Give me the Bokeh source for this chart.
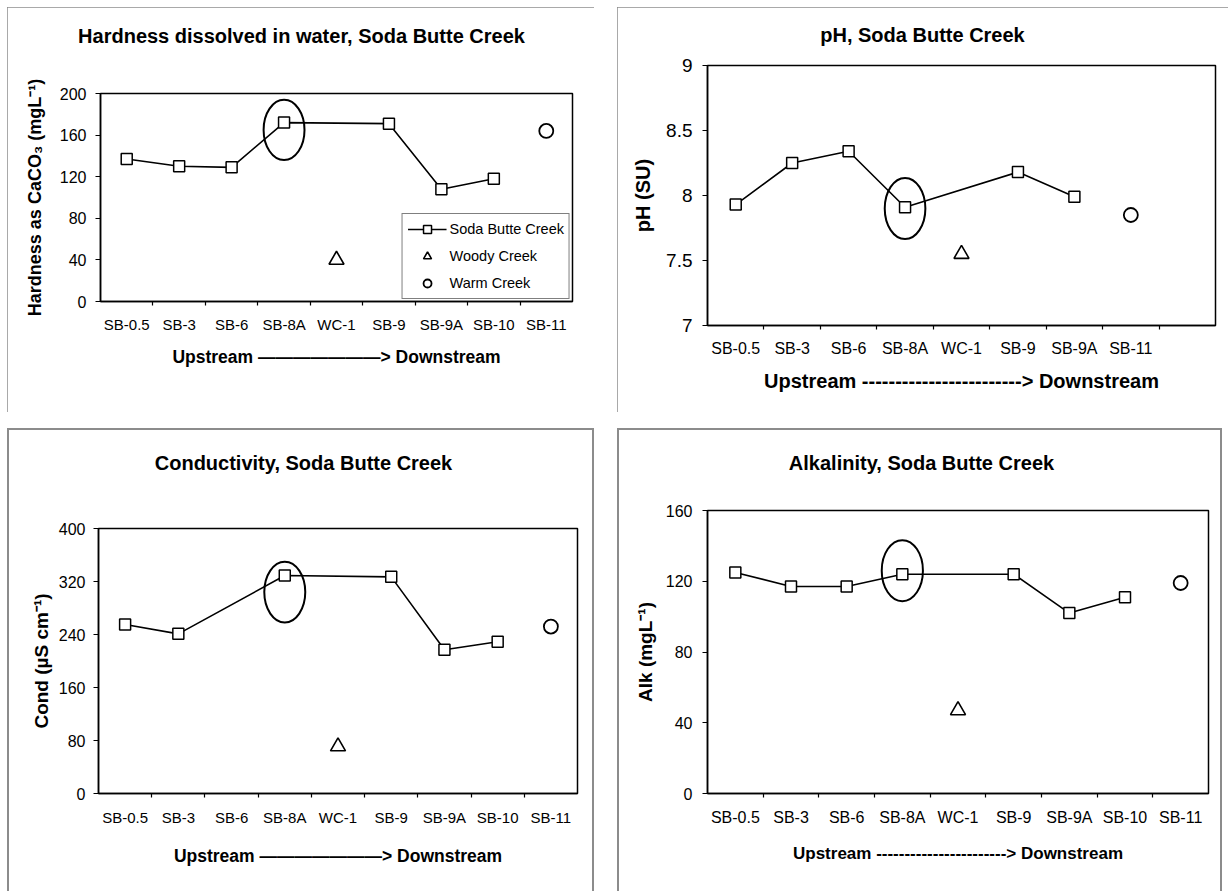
from bokeh.plotting import figure
from bokeh.models import (FactorRange, Range1d, FixedTicker, LinearAxis,
                          Label, Legend, LegendItem, NumeralTickFormatter)
from bokeh.embed import file_html
from bokeh.resources import INLINE

FONT = "Liberation Sans"

# ---------------- data ----------------
sites_main = ["SB-0.5", "SB-3", "SB-6", "SB-8A", "WC-1", "SB-9", "SB-9A", "SB-10", "SB-11"]
sites_ph = ["SB-0.5", "SB-3", "SB-6", "SB-8A", "WC-1", "SB-9", "SB-9A", "SB-11", " "]

woody_site = ["WC-1"]
warm_site = ["SB-11"]
highlight_site = ["SB-8A"]

# Hardness (mg/L as CaCO3)
hard_sb_sites = ["SB-0.5", "SB-3", "SB-6", "SB-8A", "SB-9", "SB-9A", "SB-10"]
hard_sb = [137, 130, 129, 172, 171, 108, 118]
hard_woody = [40]
hard_warm = [164]

# pH (SU)
ph_sb_sites = ["SB-0.5", "SB-3", "SB-6", "SB-8A", "SB-9", "SB-9A"]
ph_sb = [7.93, 8.25, 8.34, 7.91, 8.18, 7.99]
ph_woody = [7.55]
ph_warm = [7.85]

# Conductivity (uS/cm)
cond_sb_sites = ["SB-0.5", "SB-3", "SB-8A", "SB-9", "SB-9A", "SB-10"]
cond_sb = [255, 241, 329, 327, 217, 229]
cond_woody = [71]
cond_warm = [252]

# Alkalinity (mg/L)
alk_sb_sites = ["SB-0.5", "SB-3", "SB-6", "SB-8A", "SB-9", "SB-9A", "SB-10"]
alk_sb = [125, 117, 117, 124, 124, 102, 111]
alk_woody = [47]
alk_warm = [119]

hard_ticks = [0, 40, 80, 120, 160, 200]
ph_ticks = [7, 7.5, 8, 8.5, 9]
cond_ticks = [0, 80, 160, 240, 320, 400]
alk_ticks = [0, 40, 80, 120, 160]

SOLID_ARROW = "Upstream \u2014\u2014\u2014\u2014\u2014\u2014\u2014> Downstream"


def make_panel(cfg):
    cats = cfg["cats"]
    p = figure(x_range=FactorRange(factors=cats, range_padding=0),
               y_range=Range1d(cfg["yr"][0], cfg["yr"][1]),
               width=cfg["W"], height=cfg["H"],
               x_axis_location=None, y_axis_location=None,
               toolbar_location=None, output_backend="svg",
               min_border_left=cfg["mb"][0], min_border_right=cfg["mb"][1],
               min_border_top=cfg["mb"][2], min_border_bottom=cfg["mb"][3],
               background_fill_color="white",
               border_fill_color=cfg.get("bfill", "white"),
               outline_line_color="black", outline_line_width=1.5)
    p.xgrid.visible = False
    p.ygrid.visible = False
    st = {"position": "absolute", "left": "%dpx" % cfg["pos"][0], "top": "%dpx" % cfg["pos"][1]}
    st.update(cfg["frame_css"])
    p.styles = st

    # y axis
    yax = LinearAxis(ticker=FixedTicker(ticks=cfg["yticks"]),
                     formatter=NumeralTickFormatter(format="0.[0]"),
                     axis_line_color="black", axis_line_width=1.5,
                     major_tick_line_color="black", major_tick_line_width=1.2,
                     major_tick_in=0, major_tick_out=5,
                     minor_tick_line_color=None,
                     major_label_standoff=cfg["ylab_std"],
                     major_label_text_font=FONT,
                     major_label_text_font_size=cfg["ytick_fs"],
                     major_label_text_color="black",
                     axis_label=cfg["ylabel"],
                     axis_label_standoff=cfg["yaxlab_std"],
                     axis_label_text_font=FONT,
                     axis_label_text_font_style="bold",
                     axis_label_text_font_size=cfg["ylabel_fs"],
                     axis_label_text_color="black")
    p.add_layout(yax, "left")

    # x axis: labels at category centres, tick marks between categories
    centers = [i + 0.5 for i in range(len(cats))]
    bounds = list(range(1, len(cats)))
    xax = LinearAxis(ticker=FixedTicker(ticks=centers, minor_ticks=bounds),
                     major_label_overrides={c: name for c, name in zip(centers, cats)},
                     axis_line_color="black", axis_line_width=1.5,
                     major_tick_line_color=None, major_tick_in=0, major_tick_out=0,
                     minor_tick_line_color="black", minor_tick_line_width=1.2,
                     minor_tick_in=0, minor_tick_out=4,
                     major_label_standoff=cfg["xlab_std"],
                     major_label_text_font=FONT,
                     major_label_text_font_size=cfg["xtick_fs"],
                     major_label_text_color="black",
                     axis_label=cfg["xlabel"],
                     axis_label_standoff=cfg["xaxlab_std"],
                     axis_label_text_font=FONT,
                     axis_label_text_font_style="bold",
                     axis_label_text_font_size=cfg["xlabel_fs"],
                     axis_label_text_color="black")
    p.add_layout(xax, "below")

    # highlight ellipse around SB-8A
    hy, hw, hh = cfg["hl"]
    p.ellipse(x=highlight_site, y=[hy], width=hw, height=hh,
              fill_color=None, line_color="black", line_width=2)

    # series
    ln = p.line(x=cfg["sb_sites"], y=cfg["sb"], line_color="black", line_width=1.6)
    sq = p.scatter(x=cfg["sb_sites"], y=cfg["sb"], marker="square", size=11,
                   fill_color="white", line_color="black", line_width=1.5)
    tri = p.scatter(x=woody_site, y=cfg["woody"], marker="triangle", size=15,
                    fill_color="white", line_color="black", line_width=1.6)
    cir = p.scatter(x=warm_site, y=cfg["warm"], marker="circle", size=14,
                    fill_color="white", line_color="black", line_width=1.8)

    if cfg.get("legend"):
        leg = Legend(items=[LegendItem(label="Soda Butte Creek", renderers=[ln, sq]),
                            LegendItem(label="Woody Creek", renderers=[tri]),
                            LegendItem(label="Warm Creek", renderers=[cir])],
                     location="bottom_right", margin=2, padding=5, spacing=7,
                     glyph_width=39, glyph_height=20, label_height=20,
                     label_standoff=3, label_text_font=FONT,
                     label_text_font_size="14.5px", label_text_color="black",
                     border_line_color="black", border_line_width=1.2,
                     background_fill_color="white", background_fill_alpha=1.0)
        p.add_layout(leg, "center")

    p.add_layout(Label(x=cfg["title_xy"][0], y=cfg["title_xy"][1],
                       x_units="screen", y_units="screen", text=cfg["title"],
                       text_align="center", text_baseline="middle",
                       text_font=FONT, text_font_style="bold",
                       text_font_size="20px", text_color="black"), "above")
    return p


BOX = {"outline": "2px solid #8c8c8c", "outline-offset": "-2px"}
OPEN_BOX = {"box-shadow": "inset 2px 2px 0 #8c8c8c, inset -2px 0 0 #8c8c8c"}

p1 = make_panel(dict(
    cats=sites_main, yr=(0, 200), yticks=hard_ticks, W=587, H=405, mb=(93, 22, 86, 111),
    pos=(7, 7), frame_css=BOX,
    ylabel="Hardness as CaCO\u2083 (mgL\u207b\u00b9)", ylabel_fs="18px", ytick_fs="16px",
    ylab_std=9, yaxlab_std=12,
    xlabel=SOLID_ARROW, xlabel_fs="17.5px", xtick_fs="15px", xlab_std=10, xaxlab_std=11,
    sb_sites=hard_sb_sites, sb=hard_sb, woody=hard_woody, warm=hard_warm,
    hl=(165, 0.78, 58), legend=True,
    title="Hardness dissolved in water, Soda Butte Creek", title_xy=(201, 58)))

p2 = make_panel(dict(
    cats=sites_ph, yr=(7, 9), yticks=ph_ticks, W=611, H=405, mb=(90, 13, 58, 87),
    pos=(617, 7), frame_css=BOX,
    ylabel="pH (SU)", ylabel_fs="20px", ytick_fs="19px",
    ylab_std=10, yaxlab_std=9,
    xlabel="Upstream ------------------------> Downstream", xlabel_fs="20px",
    xtick_fs="16px", xlab_std=10, xaxlab_std=10,
    sb_sites=ph_sb_sites, sb=ph_sb, woody=ph_woody, warm=ph_warm,
    hl=(7.90, 0.72, 0.47),
    title="pH, Soda Butte Creek", title_xy=(215, 31)))

p3 = make_panel(dict(
    cats=sites_main, yr=(0, 400), yticks=cond_ticks, W=587, H=463, mb=(91, 17, 100, 98),
    pos=(7, 428), frame_css=OPEN_BOX, bfill=None,
    ylabel="Cond (\u00b5S cm\u207b\u00b9)", ylabel_fs="19px", ytick_fs="16px",
    ylab_std=8, yaxlab_std=4,
    xlabel=SOLID_ARROW, xlabel_fs="17.5px", xtick_fs="15px", xlab_std=11, xaxlab_std=17,
    sb_sites=cond_sb_sites, sb=cond_sb, woody=cond_woody, warm=cond_warm,
    hl=(304, 0.77, 92),
    title="Conductivity, Soda Butte Creek", title_xy=(205, 66)))

p4 = make_panel(dict(
    cats=sites_main, yr=(0, 160), yticks=alk_ticks, W=605, H=463, mb=(90, 14, 82, 98),
    pos=(617, 428), frame_css=OPEN_BOX, bfill=None,
    ylabel="Alk (mgL\u207b\u00b9)", ylabel_fs="19px", ytick_fs="16px",
    ylab_std=10, yaxlab_std=7,
    xlabel="Upstream -----------------------> Downstream", xlabel_fs="17px",
    xtick_fs="16px", xlab_std=11, xaxlab_std=15,
    sb_sites=alk_sb_sites, sb=alk_sb, woody=alk_woody, warm=alk_warm,
    hl=(126, 0.74, 34.5),
    title="Alkalinity, Soda Butte Creek", title_xy=(214, 48)))

open("out.html", "w").write(file_html([p1, p2, p3, p4], INLINE))
